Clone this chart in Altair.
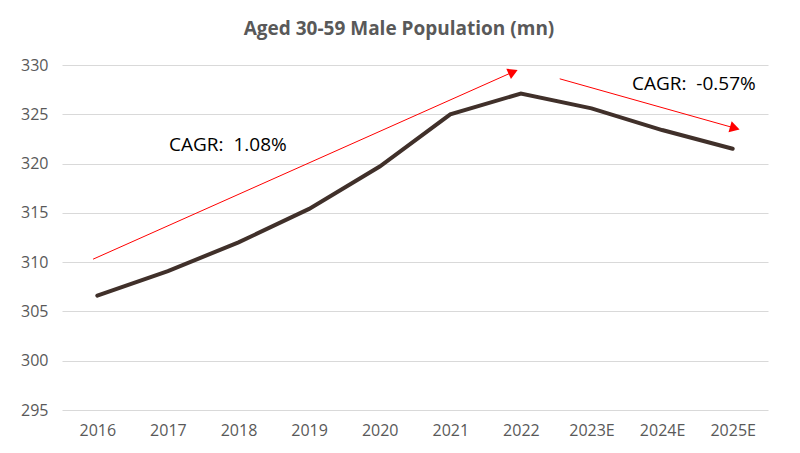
import altair as alt
import pandas as pd

years = ["2016", "2017", "2018", "2019", "2020", "2021", "2022", "2023E", "2024E", "2025E"]
population = [306.6, 309.1, 312.0, 315.4, 319.7, 325.0, 327.1, 325.6, 323.4, 321.5]

# annotation arrows (x in category-index units, y in data units)
arrow_x1 = [-0.06, 6.55]
arrow_y1 = [310.3, 328.6]
arrow_x2 = [5.89, 9.03]
arrow_y2 = [329.3, 323.6]
arrow_angle = [336, 16]
label_text = ["CAGR:\u00a0\u00a01.08%", "CAGR:\u00a0\u00a0-0.57%"]
label_x = [1.85, 8.45]
label_y = [321.9, 328.1]

df = pd.DataFrame({"idx": list(range(len(years))), "year": years, "pop": population})
arrows = pd.DataFrame({"x1": arrow_x1, "y1": arrow_y1, "x2": arrow_x2, "y2": arrow_y2, "angle": arrow_angle})
labels = pd.DataFrame({"x": label_x, "y": label_y, "t": label_text})

label_expr = "[" + ",".join(f"'{y}'" for y in years) + "][datum.value]"

xscale = alt.Scale(domain=[-0.5, 9.5], nice=False, zero=False)
yscale = alt.Scale(domain=[295, 330], nice=False, zero=False)

base_x = alt.X("idx:Q", scale=xscale, title=None,
               axis=alt.Axis(values=list(range(len(years))), labelExpr=label_expr, grid=False,
                             domain=False, ticks=False, labelPadding=12, labelFontSize=16,
                             labelColor="#595959", labelFont="Open Sans"))
base_y = alt.Y("pop:Q", scale=yscale, title=None,
               axis=alt.Axis(values=[295, 300, 305, 310, 315, 320, 325, 330], grid=True,
                             gridColor="#d9d9d9", gridWidth=1, domain=False, ticks=False,
                             labelPadding=14, labelFontSize=16, labelColor="#595959",
                             labelFont="Open Sans"))

line = alt.Chart(df).mark_line(color="#40302a", strokeWidth=4, strokeCap="round").encode(x=base_x, y=base_y)

arrow_lines = alt.Chart(arrows).mark_rule(color="#ff0000", strokeWidth=1).encode(
    x=alt.X("x1:Q", scale=xscale), y=alt.Y("y1:Q", scale=yscale),
    x2="x2:Q", y2="y2:Q")

heads = alt.Chart(arrows).mark_point(shape="triangle-right", filled=True, color="#ff0000",
                                     size=130, opacity=1).encode(
    x=alt.X("x2:Q", scale=xscale), y=alt.Y("y2:Q", scale=yscale),
    angle=alt.Angle("angle:Q", scale=None))

texts = alt.Chart(labels).mark_text(fontSize=19, color="#000000", font="Open Sans").encode(
    x=alt.X("x:Q", scale=xscale), y=alt.Y("y:Q", scale=yscale), text="t:N")

chart = alt.layer(line, arrow_lines, heads, texts).properties(
    width=706, height=345,
    title=alt.TitleParams("Aged 30-59 Male Population (mn)", fontSize=19, fontWeight="bold",
                          color="#595959", font="Open Sans", offset=18, anchor="middle", dx=-16),
    autosize=alt.AutoSizeParams(type="none"),
    padding={"left": 54, "top": 57, "right": 24, "bottom": 35},
).configure_view(stroke=None)

chart.save("out.html", embed_options={"renderer": "svg", "actions": False})
